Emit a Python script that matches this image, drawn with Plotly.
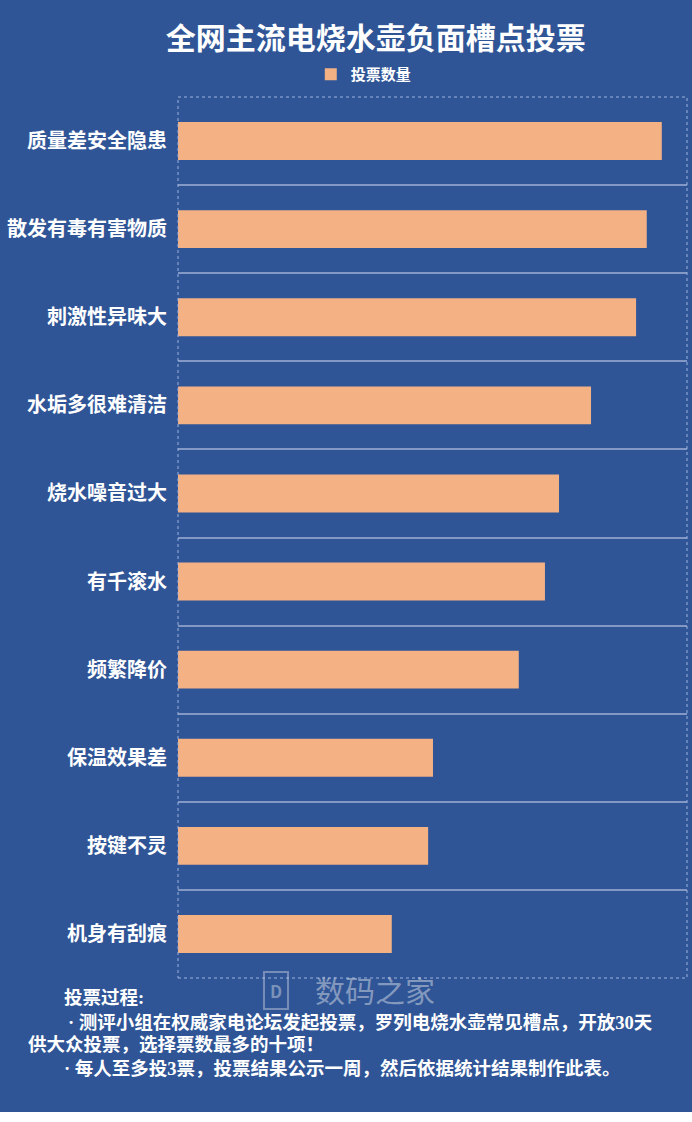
import plotly.graph_objects as go

categories = ["质量差安全隐患", "散发有毒有害物质", "刺激性异味大", "水垢多很难清洁", "烧水噪音过大",
              "有千滚水", "频繁降价", "保温效果差", "按键不灵", "机身有刮痕"]
votes = [998, 967, 945, 852, 786, 757, 703, 526, 516, 441]
series_name = "投票数量"

BG = "#2F5597"
BAR = "#F4B183"
FONT = "Noto Sans CJK SC"
NOTE_FONT = "Liberation Serif, Noto Sans CJK SC"

fig = go.Figure()
fig.add_trace(go.Bar(
    y=categories, x=votes, orientation="h", name=series_name,
    marker=dict(color=BAR, line=dict(width=0)), width=0.43,
))

fig.update_layout(
    width=692, height=1112,
    paper_bgcolor=BG, plot_bgcolor=BG,
    margin=dict(l=178, r=5, t=97, b=134),
    title=dict(text="<b>全网主流电烧水壶负面槽点投票</b>", x=0.543, xanchor="center", y=1 - 38 / 1112,
               yanchor="middle", font=dict(family=FONT, size=30, color="white")),
    showlegend=True,
    legend=dict(orientation="h", x=0.365, xanchor="center", y=1.0 + 6 / 881, yanchor="bottom",
                font=dict(family=FONT, size=15, color="white", weight="bold"), bgcolor="rgba(0,0,0,0)",
                itemwidth=30),
    font=dict(family=FONT, color="white"),
)
fig.update_xaxes(range=[0, 1050], showticklabels=False, showgrid=False, zeroline=False,
                 showline=False, ticks="")
fig.update_yaxes(type="category", autorange="reversed", tickson="boundaries", showgrid=True,
                 gridcolor="#8498C6", gridwidth=1.5, ticks="", ticklabelstandoff=10,
                 tickfont=dict(family=FONT, size=20, color="white", weight="bold"),
                 showline=False)

# dotted plot-area border
fig.add_shape(type="rect", xref="paper", yref="paper", x0=0, x1=1, y0=0, y1=1,
              line=dict(color="#9DB3DE", width=1, dash="dot"), layer="above")

# watermark
fig.add_annotation(xref="paper", yref="paper", x=(375 - 178) / 509, y=1 - (989 - 97) / 881,
                   xanchor="center", yanchor="middle", text="数码之家", showarrow=False,
                   font=dict(family=FONT, size=30, color="rgba(190,198,215,0.6)"))
fig.add_annotation(xref="paper", yref="paper", x=(276 - 178) / 509, y=1 - (990 - 97) / 881,
                   xanchor="center", yanchor="middle", text="<b>D</b>", showarrow=False,
                   bordercolor="rgba(190,198,215,0.5)", borderwidth=2, borderpad=5,
                   font=dict(family=FONT, size=17, color="rgba(190,198,215,0.55)"))

notes = [
    ("<b>投票过程:</b>", 62, 998),
    ("<b>· 测评小组在权威家电论坛发起投票，罗列电烧水壶常见槽点，开放30天</b>", 66, 1022),
    ("<b>供大众投票，选择票数最多的十项！</b>", 26, 1045),
    ("<b>· 每人至多投3票，投票结果公示一周，然后依据统计结果制作此表。</b>", 62, 1068),
]
for txt, px, py in notes:
    fig.add_annotation(xref="paper", yref="paper", x=(px - 178) / 509, y=1 - (py - 97) / 881,
                       xanchor="left", yanchor="middle", text=txt, showarrow=False,
                       font=dict(family=NOTE_FONT, size=18.5, color="white"))

fig.write_html("out.html", config={"displayModeBar": False},
               post_script="document.body.style.margin='0';")
